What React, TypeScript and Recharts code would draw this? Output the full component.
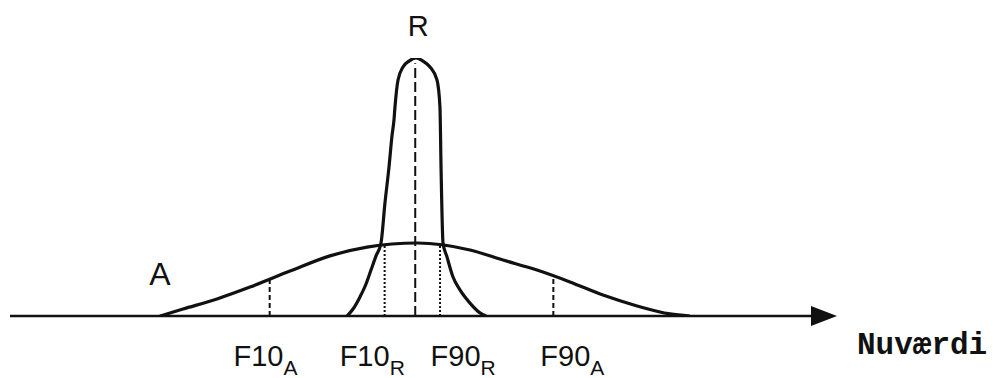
import { LineChart, Line, XAxis, YAxis, ReferenceLine, ReferenceDot } from 'recharts';

// Wide distribution "A"
const aPos = [18.14, 20.92, 25.03, 29.02, 33.86, 38.69, 43.17, 49.21, 55.62, 59.61, 63.72, 67.71, 71.7, 75.82, 79.81, 82.22];
const aVal = [0, 2.7, 6.6, 11.2, 17.4, 23.3, 26.7, 28.3, 25.6, 21.7, 17.8, 13.2, 8.1, 3.9, 0.8, 0];

// Narrow distribution "R"
const rPos = [40.75, 41.48, 42.32, 43.05, 43.65, 44.26, 44.86, 45.34, 45.83, 46.19, 46.43, 46.55, 46.92, 47.52, 48.25, 49.09, 49.94, 50.79, 51.63, 51.99, 52.12, 52.36, 52.84, 53.57, 54.41, 55.62, 56.83, 57.56];
const rVal = [0, 2.7, 7.4, 12.4, 17.8, 23.3, 28.3, 43.8, 57.8, 69.8, 76.0, 81.0, 91.5, 96.5, 98.8, 100, 98.8, 96.5, 91.5, 81.0, 57.8, 28.3, 22.9, 15.1, 10.1, 5.0, 1.2, 0];

// Percentile markers: position, which curve they run up to, line style
const markerPos = [31.4, 45.3, 49.0, 52.0, 65.7];
const markerCurve = ['A', 'A', 'R', 'A', 'A'];
const markerDash = ['5 3', '2 2', '10 4', '2 2', '5 3'];

// Axis labels under the markers
const tickPos = [30.9, 43.8, 54.8, 68.0];
const tickMain = ['F10', 'F10', 'F90', 'F90'];
const tickSub = ['A', 'R', 'R', 'A'];

const INK = '#111';
const SANS = '"Liberation Sans", Arial, sans-serif';

const aData = aPos.map((x, i) => ({ x, v: aVal[i] }));
const rData = rPos.map((x, i) => ({ x, v: rVal[i] }));

// linear lookup of a curve's height at x
function heightAt(pos: number[], val: number[], x: number) {
  for (let i = 1; i < pos.length; i++) {
    if (x <= pos[i]) {
      const t = (x - pos[i - 1]) / (pos[i] - pos[i - 1]);
      return val[i - 1] + t * (val[i] - val[i - 1]);
    }
  }
  return 0;
}

const AxisArrow = (props: any) => {
  const { x1, y1, x2, y2 } = props;
  return (
    <g>
      <line x1={x1} y1={y1} x2={x2 - 20} y2={y2} stroke={INK} strokeWidth={2.5} />
      <polygon points={`${x2 - 26},${y2 - 10} ${x2},${y2} ${x2 - 26},${y2 + 10}`} fill={INK} />
    </g>
  );
};

const SubTick = (props: any) => {
  const { x, y, payload } = props;
  const i = tickPos.indexOf(payload.value);
  return (
    <text x={x} y={y + 42} textAnchor="middle" fontFamily={SANS} fontSize={29} fill={INK}>
      {tickMain[i]}
      <tspan fontSize={21} dy={9}>{tickSub[i]}</tspan>
    </text>
  );
};

const nameLabel = (text: string, dx: number, dy: number, style: any) => (p: any) => {
  const { x, y } = p.viewBox;
  return (
    <text x={x + dx} y={y + dy} fill={INK} {...style}>
      {text}
    </text>
  );
};

export default function App() {
  return (
    <div style={{ position: 'absolute', left: 0, top: 0, background: '#fff' }}>
      <LineChart width={993} height={378} margin={{ top: 58, right: 156, bottom: 0, left: 10 }}>
        <XAxis
          type="number"
          dataKey="x"
          domain={[0, 100]}
          ticks={tickPos}
          interval={0}
          axisLine={false}
          tickLine={false}
          height={62}
          tick={<SubTick />}
          allowDataOverflow
        />
        <YAxis type="number" domain={[0, 100]} hide allowDataOverflow />

        <ReferenceLine y={0} shape={AxisArrow} ifOverflow="visible" />

        {markerPos.map((x, i) => {
          const h = markerCurve[i] === 'A' ? heightAt(aPos, aVal, x) : Math.max(...rVal) - 2;
          return (
            <ReferenceLine
              key={i}
              segment={[{ x, y: 0 }, { x, y: h }]}
              stroke={INK}
              strokeWidth={2}
              strokeDasharray={markerDash[i]}
              ifOverflow="visible"
            />
          );
        })}

        <Line data={aData} dataKey="v" type="monotone" dot={false} stroke={INK} strokeWidth={3.2} isAnimationActive={false} />
        <Line data={rData} dataKey="v" type="monotone" dot={false} stroke={INK} strokeWidth={3.2} isAnimationActive={false} />

        <ReferenceDot x={aPos[0]} y={0} r={0} stroke="none" ifOverflow="visible"
          label={{ content: nameLabel('A', 0, -31, { fontFamily: SANS, fontSize: 32, textAnchor: 'middle' }) }} />
        <ReferenceDot x={49.0} y={100} r={0} stroke="none" ifOverflow="visible"
          label={{ content: nameLabel('R', 3, -22, { fontFamily: SANS, fontSize: 29, textAnchor: 'middle' }) }} />
        <ReferenceDot x={100} y={0} r={0} stroke="none" ifOverflow="visible"
          label={{ content: nameLabel('Nuværdi', 20, 38, { fontFamily: '"Liberation Mono", monospace', fontSize: 31, fontWeight: 'bold' }) }} />
      </LineChart>
    </div>
  );
}
